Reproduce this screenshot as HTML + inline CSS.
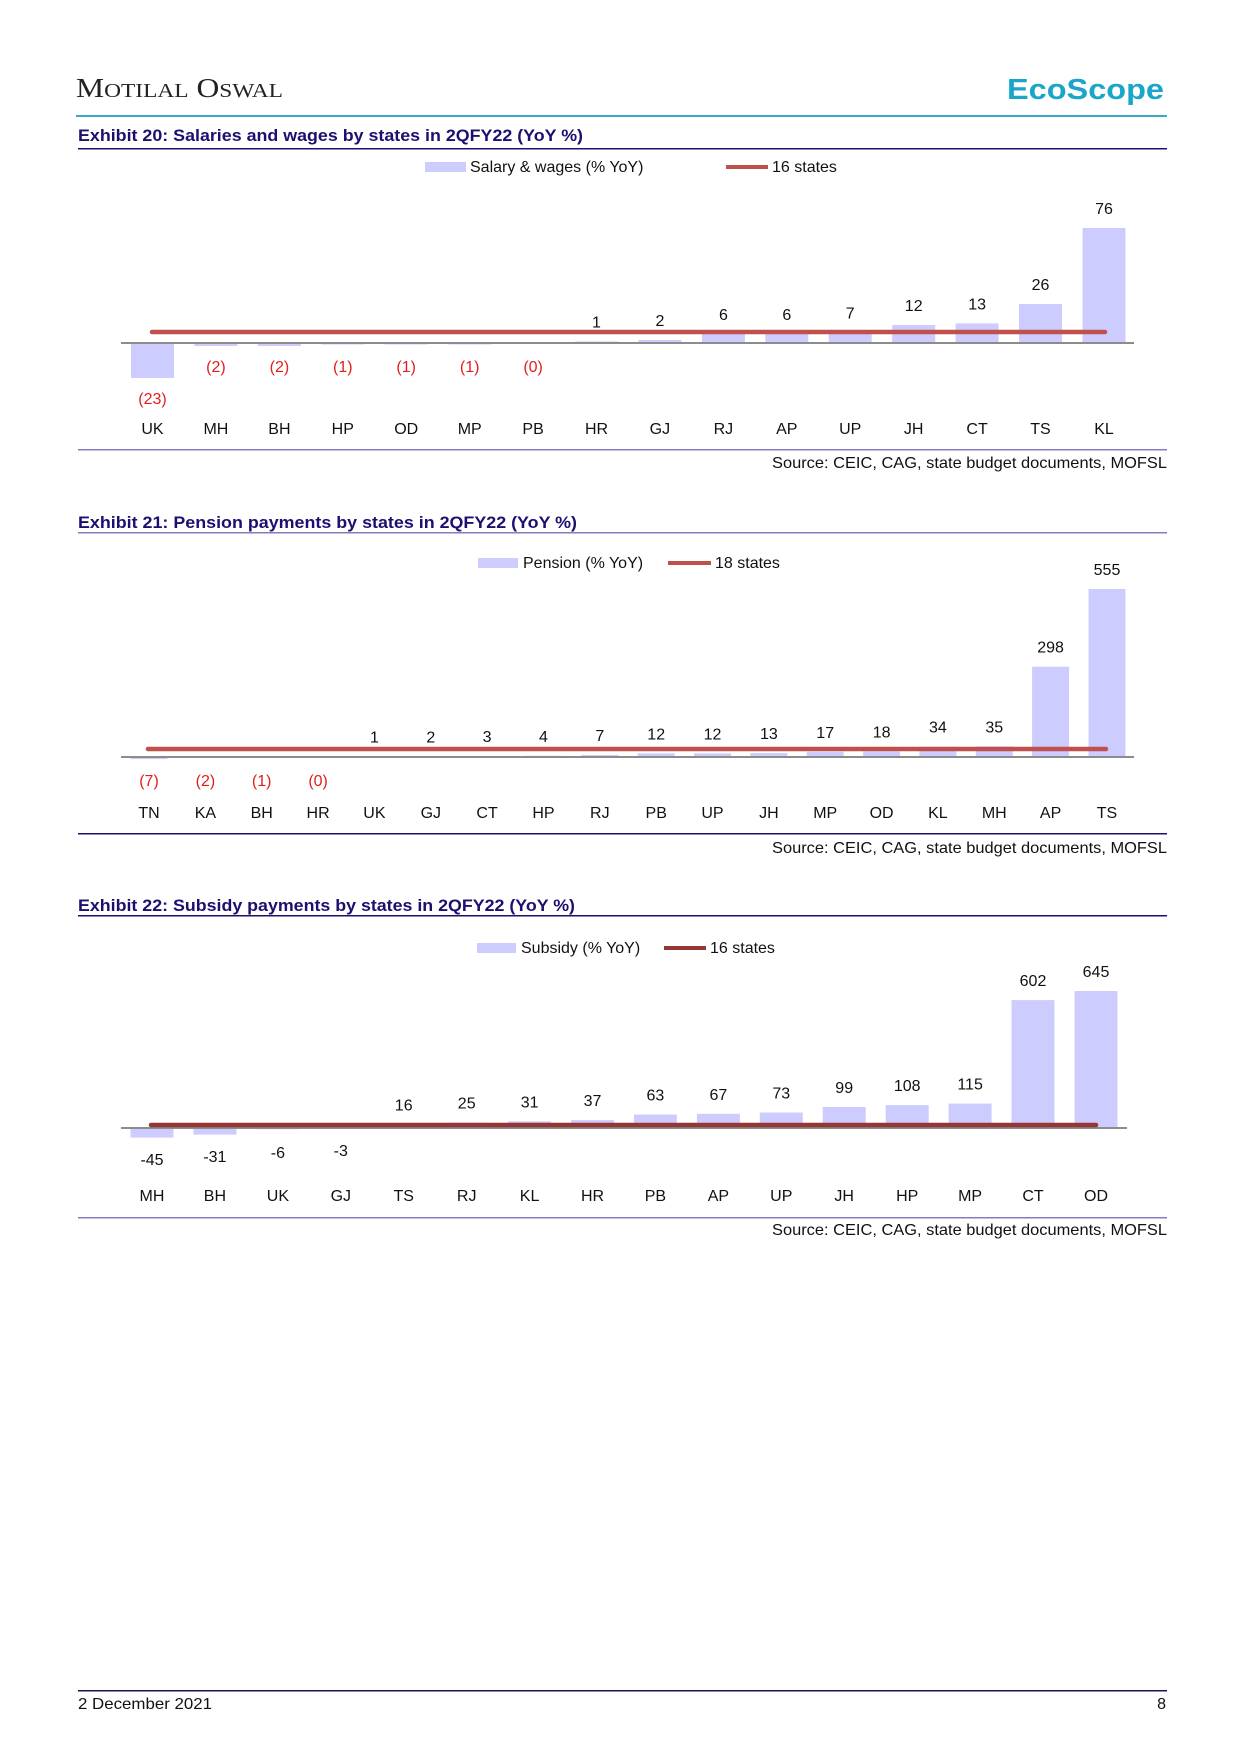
<!DOCTYPE html>
<html><head><meta charset="utf-8"><style>
html,body{margin:0;padding:0;background:#fff}
svg{display:block}
text{font-family:"Liberation Sans",sans-serif}
</style></head><body>
<svg width="1241" height="1755" viewBox="0 0 1241 1755" xmlns="http://www.w3.org/2000/svg">
<!-- header -->
<text x="76" y="97" style="font-family:'Liberation Serif',serif" font-size="27" fill="#222" textLength="207" lengthAdjust="spacingAndGlyphs">M<tspan font-size="20">OTILAL</tspan> O<tspan font-size="20">SWAL</tspan></text>
<text x="1007" y="99" font-size="29" font-weight="bold" fill="#19a6c9" textLength="157" lengthAdjust="spacingAndGlyphs">EcoScope</text>
<rect x="76" y="115" width="1091" height="2" fill="#3aa9c2"/>

<!-- Chart 1 -->
<text x="78" y="141" font-size="17" font-weight="bold" fill="#1b1070" textLength="505" lengthAdjust="spacingAndGlyphs">Exhibit 20: Salaries and wages by states in 2QFY22 (YoY %)</text>
<rect x="78" y="148" width="1089" height="1.5" fill="#1b1070"/>
<rect x="425" y="162" width="41" height="10" fill="#ccccff"/>
<text x="470" y="172" font-size="16" fill="#111">Salary &amp; wages (% YoY)</text>
<rect x="726" y="165" width="42" height="4" fill="#c0504d"/>
<text x="772" y="172" font-size="16" fill="#111">16 states</text>
<g fill="#ccccff">
<rect x="131" y="343" width="43" height="35"/>
<rect x="194.4" y="343" width="43" height="3"/>
<rect x="257.9" y="343" width="43" height="3"/>
<rect x="321.3" y="343" width="43" height="1.5"/>
<rect x="384.7" y="343" width="43" height="1.5"/>
<rect x="448.2" y="343" width="43" height="1.5"/>
<rect x="511.6" y="343" width="43" height="0.5"/>
<rect x="575" y="341.5" width="43" height="1.5"/>
<rect x="638.4" y="340" width="43" height="3"/>
<rect x="701.9" y="334" width="43" height="9"/>
<rect x="765.3" y="334" width="43" height="9"/>
<rect x="828.7" y="332.4" width="43" height="10.6"/>
<rect x="892.2" y="325" width="43" height="18"/>
<rect x="955.6" y="323.4" width="43" height="19.6"/>
<rect x="1019" y="304" width="43" height="39"/>
<rect x="1082.5" y="228" width="43" height="115"/>
</g>
<rect x="121" y="342" width="1013" height="2" fill="#8c8c8c"/>
<line x1="152" y1="332" x2="1105" y2="332" stroke="#c0504d" stroke-width="4.5" stroke-linecap="round"/>
<g font-size="16" fill="#111" text-anchor="middle">
<text x="596.5" y="327.5">1</text><text x="659.9" y="326">2</text><text x="723.4" y="320">6</text><text x="786.8" y="320">6</text><text x="850.2" y="318.4">7</text><text x="913.7" y="311">12</text><text x="977.1" y="309.4">13</text><text x="1040.5" y="290">26</text><text x="1104" y="214">76</text>
</g>
<g font-size="16" fill="#e0201c" text-anchor="middle">
<text x="152.5" y="404">(23)</text><text x="215.9" y="372">(2)</text><text x="279.4" y="372">(2)</text><text x="342.8" y="372">(1)</text><text x="406.2" y="372">(1)</text><text x="469.7" y="372">(1)</text><text x="533.1" y="372">(0)</text>
</g>
<g font-size="16" fill="#111" text-anchor="middle">
<text x="152.5" y="434">UK</text><text x="215.9" y="434">MH</text><text x="279.4" y="434">BH</text><text x="342.8" y="434">HP</text><text x="406.2" y="434">OD</text><text x="469.7" y="434">MP</text><text x="533.1" y="434">PB</text><text x="596.5" y="434">HR</text><text x="659.9" y="434">GJ</text><text x="723.4" y="434">RJ</text><text x="786.8" y="434">AP</text><text x="850.2" y="434">UP</text><text x="913.7" y="434">JH</text><text x="977.1" y="434">CT</text><text x="1040.5" y="434">TS</text><text x="1104" y="434">KL</text>
</g>
<rect x="78" y="449" width="1089" height="1.5" fill="#7f7fbf"/>
<text x="1167" y="468" font-size="16" fill="#111" text-anchor="end" textLength="395" lengthAdjust="spacingAndGlyphs">Source: CEIC, CAG, state budget documents, MOFSL</text>

<!-- Chart 2 -->
<text x="78" y="528" font-size="17" font-weight="bold" fill="#1b1070" textLength="499" lengthAdjust="spacingAndGlyphs">Exhibit 21: Pension payments by states in 2QFY22 (YoY %)</text>
<rect x="78" y="532" width="1089" height="1.5" fill="#7f7fbf"/>
<rect x="478" y="558" width="40" height="10" fill="#ccccff"/>
<text x="523" y="568" font-size="16" fill="#111">Pension (% YoY)</text>
<rect x="668" y="561" width="43" height="4" fill="#c0504d"/>
<text x="715" y="568" font-size="16" fill="#111">18 states</text>
<g fill="#ccccff">
<rect x="130.5" y="757" width="37" height="2.1"/>
<rect x="186.9" y="757" width="37" height="0.6"/>
<rect x="355.9" y="756.7" width="37" height="0.3"/>
<rect x="411.8" y="756.4" width="37" height="0.6"/>
<rect x="468.6" y="756.1" width="37" height="0.9"/>
<rect x="525" y="755.8" width="37" height="1.2"/>
<rect x="581.3" y="754.9" width="37" height="2.1"/>
<rect x="637.7" y="753.4" width="37" height="3.6"/>
<rect x="694" y="753.4" width="37" height="3.6"/>
<rect x="750.4" y="753.1" width="37" height="3.9"/>
<rect x="806.7" y="751.8" width="37" height="5.2"/>
<rect x="863.1" y="751.5" width="37" height="5.5"/>
<rect x="919.4" y="746.7" width="37" height="10.3"/>
<rect x="975.8" y="746.4" width="37" height="10.6"/>
<rect x="1032.1" y="666.7" width="37" height="90.3"/>
<rect x="1088.5" y="589" width="37" height="168"/>
</g>
<rect x="121" y="756" width="1013" height="2" fill="#8c8c8c"/>
<line x1="148" y1="749" x2="1106" y2="749" stroke="#c0504d" stroke-width="4.5" stroke-linecap="round"/>
<g font-size="16" fill="#111" text-anchor="middle">
<text x="374.4" y="742.7">1</text><text x="430.8" y="742.4">2</text><text x="487.1" y="742.1">3</text><text x="543.5" y="741.8">4</text><text x="599.8" y="740.9">7</text><text x="656.2" y="739.4">12</text><text x="712.5" y="739.4">12</text><text x="768.9" y="739.1">13</text><text x="825.2" y="737.8">17</text><text x="881.6" y="737.5">18</text><text x="937.9" y="732.7">34</text><text x="994.3" y="732.4">35</text><text x="1050.6" y="652.7">298</text><text x="1107" y="575">555</text>
</g>
<g font-size="16" fill="#e0201c" text-anchor="middle">
<text x="149" y="786">(7)</text><text x="205.4" y="786">(2)</text><text x="261.7" y="786">(1)</text><text x="318.1" y="786">(0)</text>
</g>
<g font-size="16" fill="#111" text-anchor="middle">
<text x="149" y="818">TN</text><text x="205.4" y="818">KA</text><text x="261.7" y="818">BH</text><text x="318.1" y="818">HR</text><text x="374.4" y="818">UK</text><text x="430.8" y="818">GJ</text><text x="487.1" y="818">CT</text><text x="543.5" y="818">HP</text><text x="599.8" y="818">RJ</text><text x="656.2" y="818">PB</text><text x="712.5" y="818">UP</text><text x="768.9" y="818">JH</text><text x="825.2" y="818">MP</text><text x="881.6" y="818">OD</text><text x="937.9" y="818">KL</text><text x="994.3" y="818">MH</text><text x="1050.6" y="818">AP</text><text x="1107" y="818">TS</text>
</g>
<rect x="78" y="833" width="1089" height="1.5" fill="#1b1070"/>
<text x="1167" y="853" font-size="16" fill="#111" text-anchor="end" textLength="395" lengthAdjust="spacingAndGlyphs">Source: CEIC, CAG, state budget documents, MOFSL</text>

<!-- Chart 3 -->
<text x="78" y="911" font-size="17" font-weight="bold" fill="#1b1070" textLength="497" lengthAdjust="spacingAndGlyphs">Exhibit 22: Subsidy payments by states in 2QFY22 (YoY %)</text>
<rect x="78" y="915" width="1089" height="1.5" fill="#1b1070"/>
<rect x="477" y="943" width="39" height="10" fill="#ccccff"/>
<text x="521" y="953" font-size="16" fill="#111">Subsidy (% YoY)</text>
<rect x="664" y="946" width="42" height="4" fill="#953735"/>
<text x="710" y="953" font-size="16" fill="#111">16 states</text>
<g fill="#ccccff">
<rect x="130.5" y="1128" width="43" height="9.6"/>
<rect x="193.4" y="1128" width="43" height="6.6"/>
<rect x="256.4" y="1128" width="43" height="1.3"/>
<rect x="319.3" y="1128" width="43" height="0.6"/>
<rect x="382.2" y="1124.6" width="43" height="3.4"/>
<rect x="445.2" y="1122.7" width="43" height="5.3"/>
<rect x="508.1" y="1121.4" width="43" height="6.6"/>
<rect x="571" y="1120.1" width="43" height="7.9"/>
<rect x="633.9" y="1114.6" width="43" height="13.4"/>
<rect x="696.9" y="1113.8" width="43" height="14.2"/>
<rect x="759.8" y="1112.5" width="43" height="15.5"/>
<rect x="822.7" y="1107" width="43" height="21"/>
<rect x="885.7" y="1105.1" width="43" height="22.9"/>
<rect x="948.6" y="1103.6" width="43" height="24.4"/>
<rect x="1011.5" y="1000.1" width="43" height="127.9"/>
<rect x="1074.5" y="991" width="43" height="137"/>
</g>
<rect x="121" y="1127" width="1006" height="2" fill="#8c8c8c"/>
<line x1="151" y1="1125" x2="1096" y2="1125" stroke="#953735" stroke-width="4.5" stroke-linecap="round"/>
<g font-size="16" fill="#111" text-anchor="middle">
<text x="403.7" y="1110.6">16</text><text x="466.7" y="1108.7">25</text><text x="529.6" y="1107.4">31</text><text x="592.5" y="1106.1">37</text><text x="655.4" y="1100.6">63</text><text x="718.4" y="1099.8">67</text><text x="781.3" y="1098.5">73</text><text x="844.2" y="1093">99</text><text x="907.2" y="1091.1">108</text><text x="970.1" y="1089.6">115</text><text x="1033" y="986.1">602</text><text x="1096" y="977">645</text>
<text x="152" y="1165">-45</text><text x="214.9" y="1162">-31</text><text x="277.9" y="1158">-6</text><text x="340.8" y="1156">-3</text>
<text x="152" y="1201">MH</text><text x="214.9" y="1201">BH</text><text x="277.9" y="1201">UK</text><text x="340.8" y="1201">GJ</text><text x="403.7" y="1201">TS</text><text x="466.7" y="1201">RJ</text><text x="529.6" y="1201">KL</text><text x="592.5" y="1201">HR</text><text x="655.4" y="1201">PB</text><text x="718.4" y="1201">AP</text><text x="781.3" y="1201">UP</text><text x="844.2" y="1201">JH</text><text x="907.2" y="1201">HP</text><text x="970.1" y="1201">MP</text><text x="1033" y="1201">CT</text><text x="1096" y="1201">OD</text>
</g>
<rect x="78" y="1217" width="1089" height="1.5" fill="#7f7fbf"/>
<text x="1167" y="1235" font-size="16" fill="#111" text-anchor="end" textLength="395" lengthAdjust="spacingAndGlyphs">Source: CEIC, CAG, state budget documents, MOFSL</text>

<!-- footer -->
<rect x="78" y="1690" width="1089" height="1.5" fill="#1b1050"/>
<text x="78" y="1709" font-size="16" fill="#111" textLength="134" lengthAdjust="spacingAndGlyphs">2 December 2021</text>
<text x="1166" y="1709" font-size="16" fill="#111" text-anchor="end">8</text>
</svg>
</body></html>
